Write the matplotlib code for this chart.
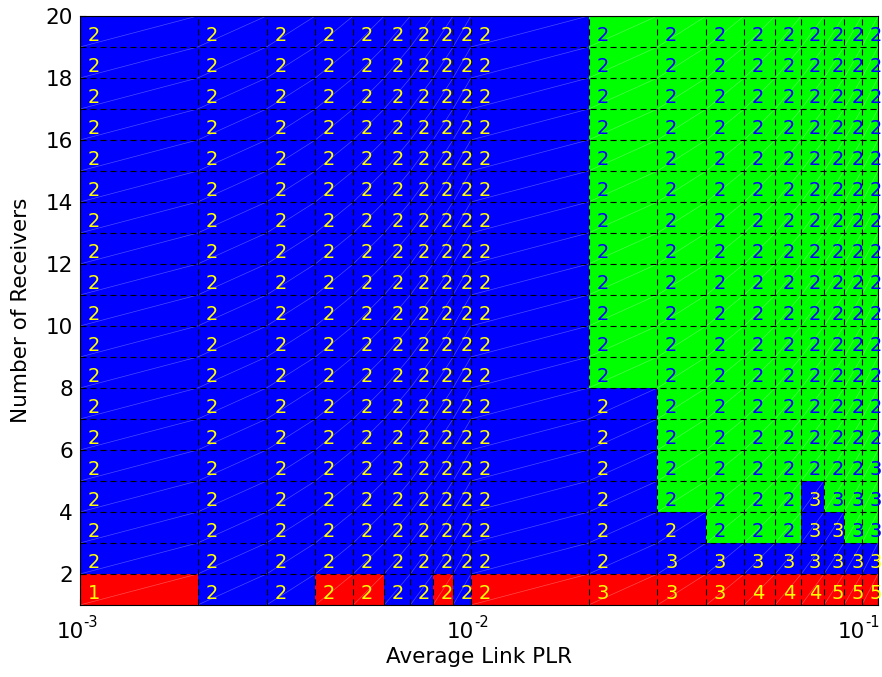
import numpy as np
import matplotlib
matplotlib.use("Agg")
import matplotlib.pyplot as plt
from matplotlib.colors import ListedColormap
from matplotlib.collections import LineCollection

plt.rcParams['font.family'] = ['DejaVu Sans']
plt.rcParams['axes.unicode_minus'] = False

# cell edges
plr = [0.001, 0.002, 0.003, 0.004, 0.005, 0.006, 0.007, 0.008, 0.009,
       0.01, 0.02, 0.03, 0.04, 0.05, 0.06, 0.07, 0.08, 0.09, 0.1, 0.11]
receivers = list(range(1, 21))
decades = [-3, -2, -1]

# scheme per cell: 0 = red, 1 = blue, 2 = green (rows = receivers 1..19)
R, B, G = 0, 1, 2
scheme = [
    [R, B, B, R, R, B, B, R, B, R, R, R, R, R, R, R, R, R, R],
    [B, B, B, B, B, B, B, B, B, B, B, B, B, B, B, B, B, B, B],
    [B, B, B, B, B, B, B, B, B, B, B, B, G, G, G, B, B, G, G],
    [B, B, B, B, B, B, B, B, B, B, B, G, G, G, G, B, G, G, G],
    [B, B, B, B, B, B, B, B, B, B, B, G, G, G, G, G, G, G, G],
    [B, B, B, B, B, B, B, B, B, B, B, G, G, G, G, G, G, G, G],
    [B, B, B, B, B, B, B, B, B, B, B, G, G, G, G, G, G, G, G],
] + [[B] * 10 + [G] * 9 for _ in range(12)]

# number shown in each cell
count = [
    [1, 2, 2, 2, 2, 2, 2, 2, 2, 2, 3, 3, 3, 4, 4, 4, 5, 5, 5],
    [2, 2, 2, 2, 2, 2, 2, 2, 2, 2, 2, 3, 3, 3, 3, 3, 3, 3, 3],
    [2, 2, 2, 2, 2, 2, 2, 2, 2, 2, 2, 2, 2, 2, 2, 3, 3, 3, 3],
    [2, 2, 2, 2, 2, 2, 2, 2, 2, 2, 2, 2, 2, 2, 2, 3, 3, 3, 3],
    [2, 2, 2, 2, 2, 2, 2, 2, 2, 2, 2, 2, 2, 2, 2, 2, 2, 2, 3],
] + [[2] * 19 for _ in range(14)]

scheme_colors = [(1, 0, 0), (0, 0, 1), (0, 1, 0)]
text_colors = [(1, 1, 0), (1, 1, 0), (0, 0, 1)]

fig = plt.figure(figsize=(8.82, 6.77), dpi=100)
ax = fig.add_axes([0.0907, 0.1064, 0.9048, 0.87])

ax.pcolormesh(plr, receivers, np.array(scheme), cmap=ListedColormap(scheme_colors),
              vmin=-0.5, vmax=2.5, shading='flat')

# faint diagonals across each cell
diag = [[(plr[j], receivers[i]), (plr[j + 1], receivers[i + 1])]
        for i in range(len(receivers) - 1) for j in range(len(plr) - 1)]
ax.add_collection(LineCollection(diag, colors='white', linewidths=0.5, alpha=0.3))

# dashed cell borders
dash = (0, (5.5, 3.5))
ax.vlines(plr, receivers[0], receivers[-1], colors='k', linewidth=0.8, linestyles=[dash])
ax.hlines(receivers, plr[0], plr[-1], colors='k', linewidth=0.8, linestyles=[dash])

for i in range(len(receivers) - 1):
    for j in range(len(plr) - 1):
        ax.annotate(str(count[i][j]), (plr[j], receivers[i] + 0.5),
                    xytext=(5.5, -1.5), textcoords='offset points',
                    ha='left', va='center_baseline', fontsize=14,
                    color=text_colors[scheme[i][j]])

ax.set_xscale('log')
ax.set_xlim(plr[0], plr[-1])
ax.set_ylim(receivers[0], receivers[-1])
ax.set_yticks(range(2, 21, 2))
ax.set_xticks([10.0 ** d for d in decades])
ax.set_xticklabels([])
ax.xaxis.set_minor_locator(matplotlib.ticker.NullLocator())
ax.tick_params(axis='y', direction='in', length=4, labelsize=15.5, pad=5)
ax.tick_params(axis='x', direction='in', length=4)

# decade labels with a small raised exponent
for d in decades:
    ax.annotate('10', (10.0 ** d, 0), xycoords=('data', 'axes fraction'),
                xytext=(2.5, -23.8), textcoords='offset points',
                ha='right', va='baseline', fontsize=15.5, annotation_clip=False)
    ax.annotate(str(d), (10.0 ** d, 0), xycoords=('data', 'axes fraction'),
                xytext=(2.5, -16), textcoords='offset points',
                ha='left', va='baseline', fontsize=10.5, annotation_clip=False)

ax.set_xlabel('Average Link PLR', fontsize=15.5)
ax.xaxis.set_label_coords(0.5, -0.072)
ax.set_ylabel('Number of Receivers', fontsize=15.5)
ax.yaxis.set_label_coords(-0.062, 0.5)

fig.savefig('out.png', dpi=100)
